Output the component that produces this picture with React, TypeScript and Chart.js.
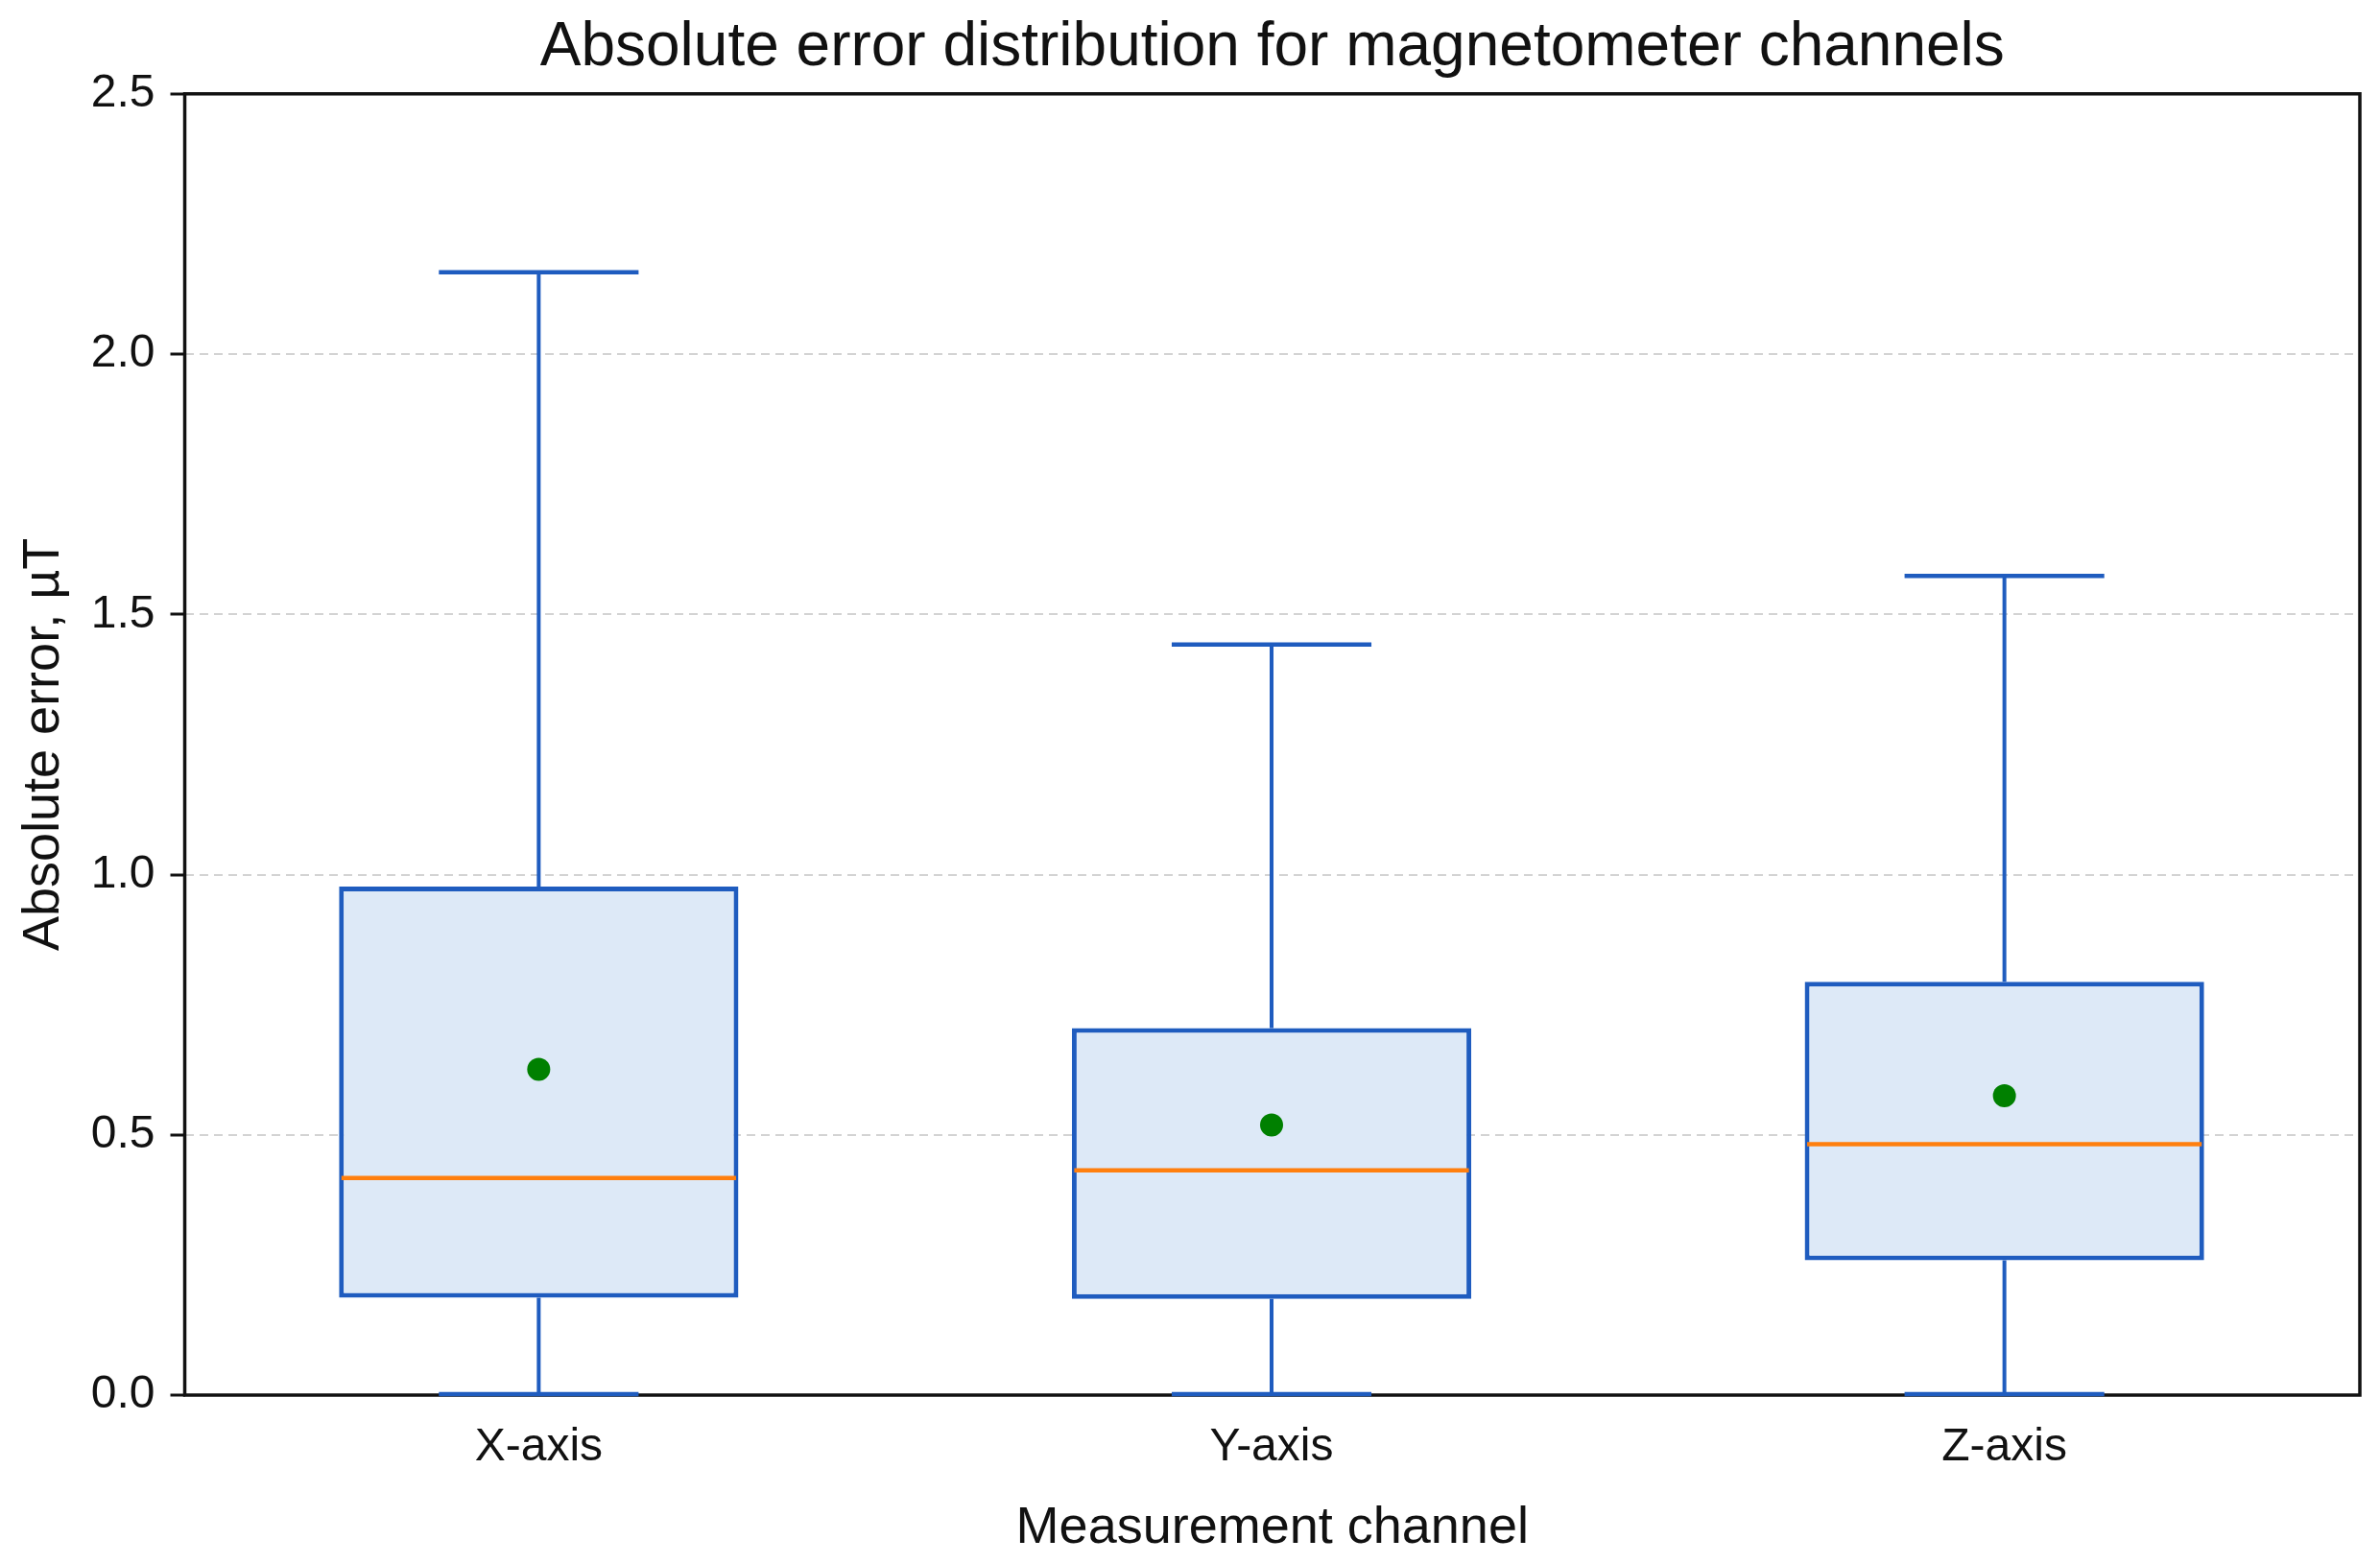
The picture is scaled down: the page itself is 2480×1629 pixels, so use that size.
import React, { useEffect, useRef } from "react";
import { Chart, registerables } from "chart.js";

Chart.register(...registerables);

const categories = ["X-axis", "Y-axis", "Z-axis"];
const positions = [1, 2, 3];
const whiskerLow = [0.002, 0.002, 0.002];
const q1Values = [0.187, 0.185, 0.259];
const medianValues = [0.417, 0.432, 0.482];
const q3Values = [0.977, 0.705, 0.794];
const whiskerHigh = [2.157, 1.442, 1.574];
const meanValues = [0.626, 0.519, 0.575];
const xMin = 0.517;
const xMax = 3.485;
const yMin = 0;
const yMax = 2.5;
const yStep = 0.5;

const BLUE = "#1f5cbf";
const FILL = "#dde9f7";
const ORANGE = "#ff7f0e";
const GREEN = "#008000";
const FONT = "'Liberation Sans', Arial, Helvetica, sans-serif";

const boxParts = {
  id: "boxParts",
  beforeDatasetsDraw(chart: any) {
    const { ctx, chartArea, scales } = chart;
    const { left, top, right, bottom } = chartArea;
    const x = scales.x;
    const y = scales.y;
    ctx.save();
    ctx.strokeStyle = "#111";
    ctx.lineWidth = 3.5;
    ctx.strokeRect(left, top, right - left, bottom - top);
    const meta = chart.getDatasetMeta(0);
    ctx.strokeStyle = BLUE;
    ctx.lineCap = "butt";
    positions.forEach((p, i) => {
      const el = meta.data[i];
      const cx = x.getPixelForValue(p);
      const half = el.width / 4;
      const yLo = y.getPixelForValue(whiskerLow[i]);
      const yQ1 = y.getPixelForValue(q1Values[i]);
      const yQ3 = y.getPixelForValue(q3Values[i]);
      const yHi = y.getPixelForValue(whiskerHigh[i]);
      ctx.lineWidth = 4;
      ctx.beginPath();
      ctx.moveTo(cx, yQ3);
      ctx.lineTo(cx, yHi);
      ctx.moveTo(cx, yQ1);
      ctx.lineTo(cx, yLo);
      ctx.stroke();
      ctx.lineWidth = 4.5;
      ctx.beginPath();
      ctx.moveTo(cx - half, yHi);
      ctx.lineTo(cx + half, yHi);
      ctx.moveTo(cx - half, yLo);
      ctx.lineTo(cx + half, yLo);
      ctx.stroke();
    });
    ctx.restore();
  },
  afterDatasetDraw(chart: any, args: any) {
    if (args.index !== 0) return;
    const { ctx, scales } = chart;
    const x = scales.x;
    const y = scales.y;
    const meta = chart.getDatasetMeta(0);
    ctx.save();
    ctx.strokeStyle = ORANGE;
    ctx.lineWidth = 4.5;
    positions.forEach((p, i) => {
      const el = meta.data[i];
      const cx = x.getPixelForValue(p);
      const half = el.width / 2 - 2.5;
      const ym = y.getPixelForValue(medianValues[i]);
      ctx.beginPath();
      ctx.moveTo(cx - half, ym);
      ctx.lineTo(cx + half, ym);
      ctx.stroke();
    });
    ctx.restore();
  },
};

export default function App() {
  const ref = useRef<HTMLCanvasElement | null>(null);
  useEffect(() => {
    if (!ref.current) return;
    const chart = new Chart(ref.current, {
      type: "bar",
      data: {
        datasets: [
          {
            type: "bar",
            order: 2,
            data: positions.map((p, i) => ({ x: p, y: [q1Values[i], q3Values[i]] })) as any,
            backgroundColor: FILL,
            borderColor: BLUE,
            borderWidth: 5,
            borderSkipped: false,
            barPercentage: 0.545,
            categoryPercentage: 1,
          },
          {
            type: "line",
            order: 1,
            data: positions.map((p, i) => ({ x: p, y: meanValues[i] })),
            showLine: false,
            pointRadius: 12,
            pointHoverRadius: 12,
            pointBackgroundColor: GREEN,
            pointBorderWidth: 0,
            borderColor: GREEN,
          } as any,
        ],
      },
      plugins: [boxParts],
      options: {
        animation: false,
        responsive: false,
        devicePixelRatio: 1,
        layout: { padding: { left: 14, right: 21, top: 0, bottom: 6 } },
        plugins: {
          legend: { display: false },
          tooltip: { enabled: false },
          title: {
            display: true,
            text: "Absolute error distribution for magnetometer channels",
            color: "#111",
            fullSize: false,
            font: { family: FONT, size: 64, weight: "normal", lineHeight: 1.2 },
            padding: { top: 12, bottom: 9 },
          },
        },
        scales: {
          x: {
            type: "linear",
            min: xMin,
            max: xMax,
            offset: false,
            bounds: "data",
            afterBuildTicks: (axis: any) => {
              axis.ticks = positions.map((p) => ({ value: p }));
            },
            grid: { display: false, drawTicks: false, offset: false },
            border: { display: false },
            ticks: {
              color: "#111",
              padding: 26,
              font: { family: FONT, size: 48, lineHeight: 1.2 },
              callback: (v: any) => categories[positions.indexOf(Number(v))] ?? "",
            },
            title: {
              display: true,
              text: "Measurement channel",
              color: "#111",
              font: { family: FONT, size: 54, lineHeight: 1.1 },
              padding: { top: 0, bottom: 0 },
            },
          },
          y: {
            min: yMin,
            max: yMax,
            border: { display: false, dash: [9, 6] },
            grid: {
              color: (c: any) =>
                c.tick && (c.tick.value === yMin || c.tick.value === yMax)
                  ? "rgba(0,0,0,0)"
                  : "#d3d3d3",
              lineWidth: 2,
              drawTicks: true,
              tickLength: 15,
              tickColor: "#111",
              tickWidth: 3,
            },
            ticks: {
              stepSize: yStep,
              color: "#111",
              padding: 16,
              font: { family: FONT, size: 48, lineHeight: 1.2 },
              callback: (v: any) => Number(v).toFixed(1),
            },
            title: {
              display: true,
              text: "Absolute error, µT",
              color: "#111",
              font: { family: FONT, size: 54, lineHeight: 1.2 },
              padding: { top: 0, bottom: 0 },
            },
          },
        },
      },
    });
    return () => chart.destroy();
  }, []);
  return (
    <div style={{ position: "fixed", left: 0, top: 0, width: 2480, height: 1629, background: "#fff" }}>
      <canvas ref={ref} width={2480} height={1629} style={{ display: "block" }} />
    </div>
  );
}
